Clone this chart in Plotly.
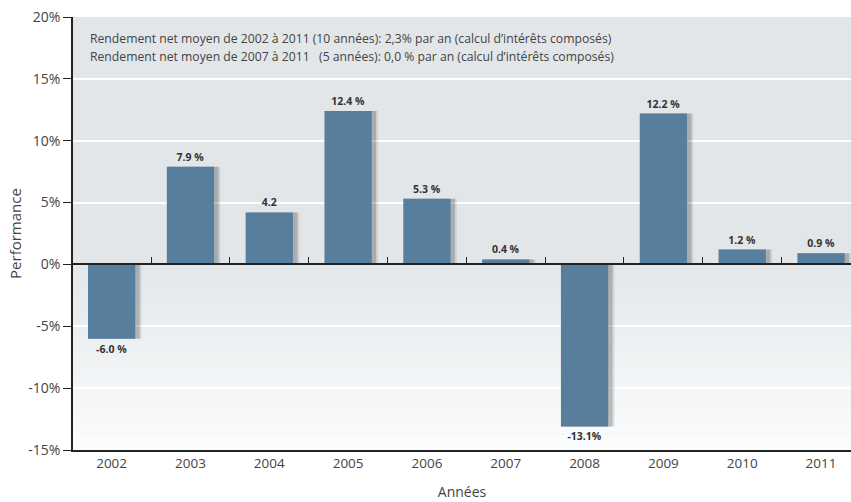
import plotly.graph_objects as go

years = ["2002", "2003", "2004", "2005", "2006", "2007", "2008", "2009", "2010", "2011"]
performance = [-6.0, 7.9, 4.2, 12.4, 5.3, 0.4, -13.1, 12.2, 1.2, 0.9]
bar_labels = ["-6.0 %", "7.9 %", "4.2", "12.4 %", "5.3 %", "0.4 %", "-13.1%", "12.2 %", "1.2 %", "0.9 %"]
y_ticks = [-15, -10, -5, 0, 5, 10, 15, 20]
y_tick_labels = ["-15%", "-10%", "-5%", "0%", "5%", "10%", "15%", "20%"]
note_lines = [
    "Rendement net moyen de 2002 à 2011 (10 années): 2,3% par an (calcul d’intérêts composés)",
    "Rendement net moyen de 2007 à 2011\u00a0\u00a0\u00a0(5 années): 0,0 % par an (calcul d’intérêts composés)",
]

FONT = "Open Sans"
BAR = "#587e9d"
Y_MIN, Y_MAX = -15, 20

fig = go.Figure()

# soft shadow behind bars (two layers for a blurred look)
for off, wid, alpha in [(-0.29, 0.67, 0.10), (-0.285, 0.64, 0.20)]:
    fig.add_trace(go.Bar(
        x=years, y=performance, xaxis="x", yaxis="y",
        width=wid, offset=off,
        marker=dict(color="rgba(30,30,30,%.2f)" % alpha, line=dict(width=0)),
        hoverinfo="skip", showlegend=False,
    ))
# main bars
fig.add_trace(go.Bar(
    x=years, y=performance, xaxis="x2", yaxis="y",
    width=0.6, offset=-0.3,
    marker=dict(color=BAR, line=dict(width=0)),
    text=bar_labels, textposition="outside", cliponaxis=False,
    textfont=dict(family=FONT, size=10.5, color="#333333", weight="bold"),
    showlegend=False,
))

# background gradient (lighter toward the bottom)
shapes = []
top_col = (228, 232, 235)
bot_col = (251, 252, 252)
n = 24
for i in range(n):
    t = i / (n - 1)
    c = tuple(int(round(top_col[k] + (bot_col[k] - top_col[k]) * t)) for k in range(3))
    y0 = 0 - 15 * i / n
    y1 = 0 - 15 * (i + 1) / n
    shapes.append(dict(type="rect", xref="paper", yref="y", x0=0, x1=1, y0=y0, y1=y1,
                       fillcolor="rgb(%d,%d,%d)" % c, line=dict(width=0), layer="below"))

annotations = []
for i, line in enumerate(note_lines):
    annotations.append(dict(
        text=line, xref="paper", yref="paper", x=0.019, y=0.95 - i * 0.042,
        xanchor="left", yanchor="middle", showarrow=False,
        font=dict(family=FONT, size=12.2, color="#444444"),
    ))

zero_pos = (0 - Y_MIN) / (Y_MAX - Y_MIN)

fig.update_layout(
    width=851, height=502,
    margin=dict(l=73, r=0, t=17, b=52, autoexpand=False),
    paper_bgcolor="white",
    plot_bgcolor="rgb(226,230,233)",
    barmode="overlay",
    shapes=shapes,
    annotations=annotations,
    font=dict(family=FONT, color="#444444"),
    xaxis=dict(
        type="category", categoryorder="array", categoryarray=years,
        range=[-0.49, 9.38], automargin=False,
        showline=True, linecolor="#222222", linewidth=1.5,
        ticks="", showgrid=False, zeroline=False,
        tickfont=dict(family=FONT, size=13.5, color="#444444"),
        title=dict(text="Années", font=dict(family=FONT, size=14, color="#444444"), standoff=16),
    ),
    xaxis2=dict(
        type="category", overlaying="x", matches="x",
        anchor="free", position=zero_pos, automargin=False,
        showline=True, linecolor="#222222", linewidth=1.5,
        ticks="inside", tickson="boundaries", ticklen=7, tickcolor="#222222", tickwidth=1,
        showticklabels=False, showgrid=False, zeroline=False,
    ),
    yaxis=dict(
        range=[Y_MIN, Y_MAX], automargin=False,
        tickvals=y_ticks, ticktext=y_tick_labels,
        showline=True, linecolor="#222222", linewidth=1.5,
        ticks="outside", ticklen=8, tickcolor="#222222",
        showgrid=True, gridcolor="white", gridwidth=1.5,
        zeroline=False,
        tickfont=dict(family=FONT, size=14, color="#444444"),
        title=dict(text="Performance", font=dict(family=FONT, size=15, color="#444444"), standoff=3),
    ),
)

fig.write_html("out.html",
               config={"displayModeBar": False},
               post_script="document.body.style.margin='0';document.body.style.overflow='hidden';")
